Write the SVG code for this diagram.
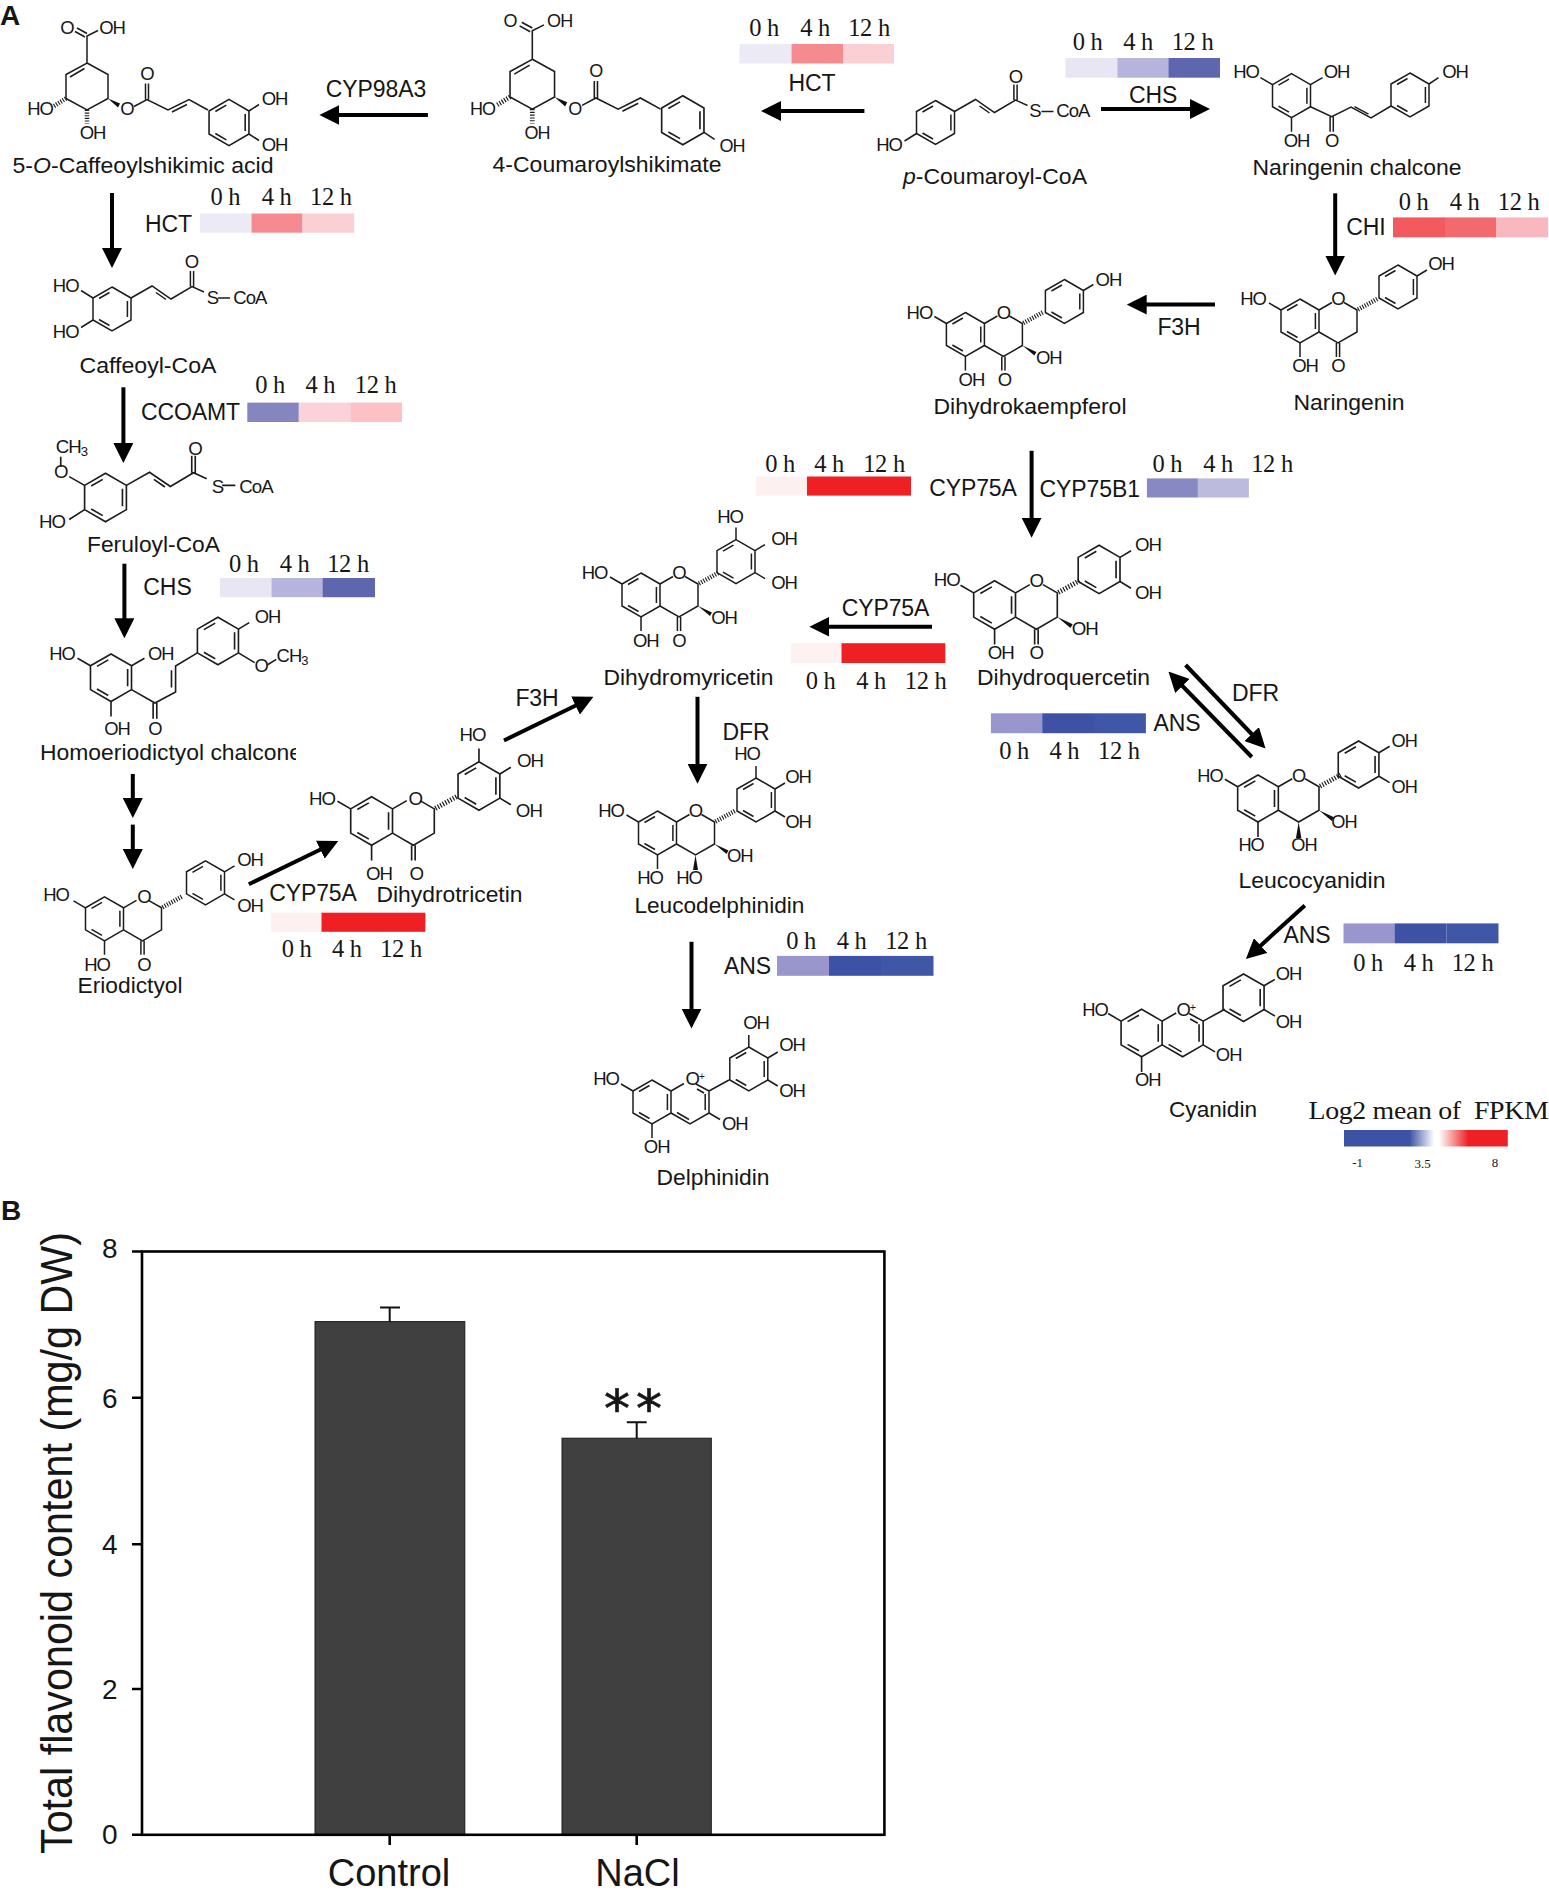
<svg xmlns="http://www.w3.org/2000/svg" width="1549" height="1894" viewBox="0 0 1549 1894">
<style>
text{font-family:"Liberation Sans",Arial,sans-serif;fill:#161616;text-anchor:middle}
.b{fill:none;stroke:#1c1c1c;stroke-width:1.5}
.h{fill:none;stroke:#1c1c1c;stroke-width:4.5;stroke-dasharray:1.1 1.5}
.w{fill:#111;stroke:none}
.a{font-size:18.5px;letter-spacing:-1px}
.s .a{font-size:17px;letter-spacing:-.9px}
.n{font-size:21.5px}
.e{font-size:23px;letter-spacing:-.1px}
.t{font-family:"Liberation Serif","Times New Roman",serif;font-size:24.5px;letter-spacing:-.3px}
.sm{font-family:"Liberation Serif","Times New Roman",serif;font-size:13px}
.arr{fill:none;stroke:#000;stroke-width:4;marker-end:url(#ah)}
.ax{fill:none;stroke:#000;stroke-width:2.6}
.tk{font-size:28px}
.bar{fill:#404040;stroke:#1a1a1a;stroke-width:1}
.er{fill:none;stroke:#111;stroke-width:2}
.pl{font-size:28px;font-weight:bold;text-anchor:start}
</style>
<defs>
<marker id="ah" markerUnits="userSpaceOnUse" markerWidth="20" markerHeight="20" viewBox="0 0 20 20" refX="2" refY="10" orient="auto"><path d="M0,0 L20,10 L0,20 Z" fill="#000"/></marker>
<path id="hex" class="b" d="M0,-22 L19,-11 V11 L0,22 L-19,11 V-11 Z M-13,-10.5 L-2.5,-16.5 M15.4,-8 V8 M-13,10.5 L-2.5,16.5"/>
<g id="cring"><path class="b" d="M19,-11 L32,-18.5 M44,-18.5 L57,-11 V11 L38,22 L19,11 M-19,-11 L-31,-18 M0,22 V36"/><path class="h" d="M58,-11.5 L78,-22.5"/></g>
<path id="co" class="b" d="M36.4,22 V36 M39.6,22 V36"/>
<path id="w3" class="w" d="M57,11 L71,17.5 L69,21 Z"/>
<g id="acring"><path class="b" d="M19,-11 L32,-18.5 M44,-18 L57,-11 V11 L38,22 L19,11 M45,-13 L52,-9 M53.2,-8 V8 M25,10.5 L37,17.5 M-19,-11 L-31,-18 M0,22 V36 M57,11 L68,17.5 M57,-11 L77,-22"/></g>
<g id="shik"><path class="b" d="M0,-23.5 L21,-12 V12 L0,23.5 L-21,12 V-12 Z M-17,-9.5 L-2.5,-18 M0,-23.5 V-50.5 L11,-56 M-2,-49.5 L-12,-55 M0,-53 L-10,-58.5 M47,20 L60,13 L81,23.5 L102,13 L121,23.5 M58.5,13 V-3 M61.5,13 V-3 M85,25.5 L100,18"/><path class="h" d="M-21,12 L-33,19.5 M0,23.5 V37"/><path class="w" d="M21,12 L33,17 L31,21 Z"/></g>
<path id="tail" class="b" d="M19,-11 L40,-23 L59,-10 L80,-22.5 L92,-17 M44,-16.5 L54,-9.5 M78.4,-22.5 V-38 M81.6,-22.5 V-38 M106,-11 H118"/>
<path id="cat" class="b" d="M19,-11 L29,-17 M19,11 L29,17"/>
<path id="tri" class="b" d="M0,-22 V-34 M19,-11 L29,-17 M19,11 L29,17"/>
<linearGradient id="lg"><stop offset="0" stop-color="#3D52A4"/><stop offset=".4" stop-color="#3D52A4"/><stop offset=".55" stop-color="#fff"/><stop offset=".58" stop-color="#fff"/><stop offset=".76" stop-color="#EE2024"/><stop offset="1" stop-color="#EE2024"/></linearGradient>
<clipPath id="cl"><rect x="30" y="735" width="266" height="40"/></clipPath>
</defs>
<rect width="1549" height="1894" fill="#fff"/>
<text class="pl" x="0" y="25">A</text>
<text class="pl" x="1" y="1220">B</text>

<g id="n-caffeoylshikimic" transform="translate(87,86.5)">
<use href="#shik"/><use href="#hex" transform="translate(142,36) scale(1.05)"/><path class="b" d="M162,24.5 L172,18 M162,47.5 L172,54"/>
<text class="a" x="-20" y="-53">O</text><text class="a" x="25" y="-53">OH</text><text class="a" x="-47" y="28.5">HO</text><text class="a" x="5.5" y="52.3">OH</text><text class="a" x="40" y="28.5">O</text><text class="a" x="60" y="-6.5">O</text><text class="a" x="187.6" y="18.2">OH</text><text class="a" x="187.6" y="64.9">OH</text>
</g>
<text id="l-caff" class="n" x="143" y="173" textLength="261" lengthAdjust="spacingAndGlyphs">5-<tspan font-style="italic">O</tspan>-Caffeoylshikimic acid</text>

<g id="n-coumaroylshikimate" class="s" transform="translate(532.3,84.2) scale(1.06)">
<use href="#shik"/><use href="#hex" transform="translate(142,34) scale(1.05)"/><path class="b" d="M162,45.5 L172,52"/>
<text class="a" x="-21" y="-53.6">O</text><text class="a" x="25.8" y="-53.6">OH</text><text class="a" x="-46.9" y="28.7">HO</text><text class="a" x="4.4" y="52">OH</text><text class="a" x="40" y="28.7">O</text><text class="a" x="60" y="-6.6">O</text><text class="a" x="188.4" y="63.7">OH</text>
</g>
<text id="l-cs" class="n" x="607" y="172" textLength="229" lengthAdjust="spacingAndGlyphs">4-Coumaroylshikimate</text>

<g id="n-pcoumaroyl" transform="translate(935.5,122.5)">
<use href="#hex"/><use href="#tail"/><path class="b" d="M-19,11 L-31,18.5"/>
<text class="a" x="-46.5" y="28.9">HO</text><text class="a" x="80" y="-40">O</text><text class="a" x="99.5" y="-5.5">S</text><text class="a" x="137.3" y="-5.5">CoA</text>
</g>
<text id="l-pc" class="n" x="995" y="183.7" textLength="184" lengthAdjust="spacingAndGlyphs"><tspan font-style="italic">p</tspan>-Coumaroyl-CoA</text>

<g id="n-chalcone" transform="translate(1291.5,95.7)">
<use href="#hex"/><use href="#hex" x="118.5" y="-0.7"/>
<path class="b" d="M-19,-11 L-31,-18 M19,-11 L31,-18 M0,22 V36 M19,11 L40.2,21 L59.5,11.3 L79.5,22.3 L99.5,10.3 M38.6,21 V36 M41.8,21 V36 M63,11 L77,18.5 M137.5,-11.7 L147,-18"/>
<text class="a" x="-45.5" y="-18">HO</text><text class="a" x="45" y="-18">OH</text><text class="a" x="5" y="51">OH</text><text class="a" x="40.2" y="51">O</text><text class="a" x="163.5" y="-18">OH</text>
</g>
<text id="l-nc" class="n" x="1357" y="175.3" textLength="209" lengthAdjust="spacingAndGlyphs">Naringenin chalcone</text>

<g id="n-caffeoylcoa" transform="translate(112,309)">
<use href="#hex"/><use href="#tail"/><path class="b" d="M-19,-11 L-31,-18.5 M-19,11 L-31,18.5"/>
<text class="a" x="-46.3" y="-17">HO</text><text class="a" x="-46.3" y="29">HO</text><text class="a" x="79.5" y="-41">O</text><text class="a" x="100.4" y="-5.3">S</text><text class="a" x="137.8" y="-5.3">CoA</text>
</g>
<text id="l-cc" class="n" x="148" y="373" textLength="137" lengthAdjust="spacingAndGlyphs">Caffeoyl-CoA</text>

<g id="n-feruloyl" class="s" transform="translate(105.5,497.5) scale(1.1)">
<use href="#hex"/><use href="#tail"/><path class="b" d="M-19,-11 L-33,-19 M-40.7,-28 V-37 M-19,11 L-33,20"/>
<text class="a" x="-31" y="-40.5">CH<tspan dy="3" font-size="12">3</tspan></text><text class="a" x="-40.7" y="-18">O</text><text class="a" x="-48.6" y="28">HO</text><text class="a" x="81.4" y="-39">O</text><text class="a" x="101.8" y="-4.3">S</text><text class="a" x="136.8" y="-4.3">CoA</text>
</g>
<text id="l-fc" class="n" x="153.5" y="552" textLength="133" lengthAdjust="spacingAndGlyphs">Feruloyl-CoA</text>

<g id="n-homoeriodictyol" class="s" transform="translate(111,677.7) scale(1.08)">
<use href="#hex"/><use href="#hex" x="99" y="-34"/>
<path class="b" d="M-19,-11 L-31,-18 M19,-11 L31,-18 M0,22 V36 M19,11 L40.7,23.4 L59.8,13.2 V-10.8 L80,-23 M39,23.4 V38 M42.4,23.4 V38 M56,9 V-7 M118,-45 L128,-51 M118,-23 L133,-14 M145,-12 L153,-17"/>
<text class="a" x="-45.4" y="-16">HO</text><text class="a" x="46" y="-16">OH</text><text class="a" x="5.6" y="53">OH</text><text class="a" x="40.7" y="53">O</text><text class="a" x="145" y="-51">OH</text><text class="a" x="139" y="-5">O</text><text class="a" x="167.6" y="-15">CH<tspan dy="3" font-size="12">3</tspan></text>
</g>
<g clip-path="url(#cl)"><text id="l-he" class="n" x="40" y="759.6" style="text-anchor:start" textLength="262" lengthAdjust="spacingAndGlyphs">Homoeriodictyol chalcone</text></g>

<g id="n-eriodictyol" transform="translate(104.5,918.8)">
<use href="#hex"/><use href="#cring"/><use href="#co"/><use href="#hex" x="101" y="-36"/><use href="#cat" x="101" y="-36"/>
<text class="a" x="-48.5" y="-18">HO</text><text class="a" x="39.5" y="-16">O</text><text class="a" x="-7.5" y="52">HO</text><text class="a" x="39.5" y="52">O</text><text class="a" x="145.5" y="-52.8">OH</text><text class="a" x="145.5" y="-6.8">OH</text>
</g>
<text id="l-er" class="n" x="130" y="993.4" textLength="105" lengthAdjust="spacingAndGlyphs">Eriodictyol</text>

<g id="n-dihydrotricetin" class="s" transform="translate(371.6,821) scale(1.1)">
<use href="#hex"/><use href="#cring"/><use href="#co"/><use href="#hex" x="97.6" y="-31.8"/><use href="#tri" x="97.6" y="-31.8"/>
<text class="a" x="-45" y="-14.5">HO</text><text class="a" x="39.8" y="-15">O</text><text class="a" x="6.7" y="54">OH</text><text class="a" x="40.7" y="54">O</text><text class="a" x="91.8" y="-72.5">HO</text><text class="a" x="144" y="-49">OH</text><text class="a" x="143" y="-4">OH</text>
</g>
<text id="l-dt" class="n" x="449.5" y="902" textLength="146" lengthAdjust="spacingAndGlyphs">Dihydrotricetin</text>

<g id="n-dihydromyricetin" transform="translate(641,595)">
<use href="#hex"/><use href="#cring"/><use href="#co"/><use href="#w3"/><use href="#hex" x="95" y="-33.4"/><use href="#tri" x="95" y="-33.4"/>
<text class="a" x="-46.5" y="-16">HO</text><text class="a" x="38" y="-16">O</text><text class="a" x="4.8" y="52">OH</text><text class="a" x="38" y="52">O</text><text class="a" x="83" y="29">OH</text><text class="a" x="89" y="-72.4">HO</text><text class="a" x="143" y="-50">OH</text><text class="a" x="143" y="-6">OH</text>
</g>
<text id="l-dm" class="n" x="688.5" y="685" textLength="170" lengthAdjust="spacingAndGlyphs">Dihydromyricetin</text>

<g id="n-leucodelphinidin" transform="translate(657.5,833)">
<use href="#hex"/><use href="#cring"/><use href="#w3"/><path class="w" d="M38,22 L35.5,37 L40.5,37 Z"/><use href="#hex" x="98.5" y="-33"/><use href="#tri" x="98.5" y="-33"/>
<text class="a" x="-46.5" y="-16.5">HO</text><text class="a" x="38" y="-16.5">O</text><text class="a" x="-7.5" y="51">HO</text><text class="a" x="31.5" y="51">HO</text><text class="a" x="82.3" y="28.6">OH</text><text class="a" x="89.5" y="-73">HO</text><text class="a" x="140.5" y="-50">OH</text><text class="a" x="140.5" y="-5">OH</text>
</g>
<text id="l-ld" class="n" x="719.4" y="912.5" textLength="170" lengthAdjust="spacingAndGlyphs">Leucodelphinidin</text>

<g id="n-delphinidin" transform="translate(652,1102)">
<use href="#hex"/><use href="#acring"/><use href="#hex" x="96.8" y="-33"/><use href="#tri" x="96.8" y="-33"/>
<text class="a" x="-46" y="-17">HO</text><text class="a" x="39.5" y="-17" style="text-anchor:start" dx="-6">O<tspan dy="-5" font-size="10">+</tspan></text><text class="a" x="82.8" y="28.3">OH</text><text class="a" x="4.7" y="50.5">OH</text><text class="a" x="104" y="-73">OH</text><text class="a" x="140" y="-51">OH</text><text class="a" x="140" y="-5.4">OH</text>
</g>
<text id="l-de" class="n" x="713" y="1185" textLength="113" lengthAdjust="spacingAndGlyphs">Delphinidin</text>

<g id="n-naringenin" transform="translate(1300,321)">
<use href="#hex"/><use href="#cring"/><use href="#co"/><use href="#hex" x="98" y="-34"/><path class="b" d="M117,-45 L127,-51"/>
<text class="a" x="-47" y="-16.5">HO</text><text class="a" x="38" y="-16">O</text><text class="a" x="5" y="50.5">OH</text><text class="a" x="38" y="50.5">O</text><text class="a" x="141" y="-51">OH</text>
</g>
<text id="l-na" class="n" x="1349" y="410" textLength="111" lengthAdjust="spacingAndGlyphs">Naringenin</text>

<g id="n-dihydrokaempferol" transform="translate(965.4,334.5)">
<use href="#hex"/><use href="#cring"/><use href="#co"/><use href="#w3"/><use href="#hex" x="99" y="-33"/><path class="b" d="M118,-44 L128,-50"/>
<text class="a" x="-46" y="-16">HO</text><text class="a" x="38" y="-16">O</text><text class="a" x="6" y="51.5">OH</text><text class="a" x="39" y="51.5">O</text><text class="a" x="83.4" y="29.3">OH</text><text class="a" x="143" y="-48.5">OH</text>
</g>
<text id="l-dk" class="n" x="1030" y="414" textLength="193" lengthAdjust="spacingAndGlyphs">Dihydrokaempferol</text>

<g id="n-dihydroquercetin" class="s" transform="translate(994.6,605) scale(1.1)">
<use href="#hex"/><use href="#cring"/><use href="#co"/><use href="#w3"/><use href="#hex" x="95" y="-32.3"/><use href="#cat" x="95" y="-32.3"/>
<text class="a" x="-43.5" y="-17">HO</text><text class="a" x="38" y="-16">O</text><text class="a" x="5.5" y="49">OH</text><text class="a" x="38" y="49">O</text><text class="a" x="82" y="27">OH</text><text class="a" x="139.5" y="-49">OH</text><text class="a" x="139.5" y="-5.5">OH</text>
</g>
<text id="l-dq" class="n" x="1063.6" y="685" textLength="173" lengthAdjust="spacingAndGlyphs">Dihydroquercetin</text>

<g id="n-leucocyanidin" class="s" transform="translate(1258,798.5) scale(1.07)">
<use href="#hex"/><use href="#cring"/><use href="#w3"/><path class="w" d="M38,22 L35.5,37 L40.5,37 Z"/><use href="#hex" x="94" y="-31.8"/><use href="#cat" x="94" y="-31.8"/>
<text class="a" x="-44.9" y="-15.4">HO</text><text class="a" x="38" y="-15.4">O</text><text class="a" x="80.4" y="28">OH</text><text class="a" x="-6.5" y="49.5">HO</text><text class="a" x="43" y="49.5">OH</text><text class="a" x="136.7" y="-48.3">OH</text><text class="a" x="136.7" y="-4.7">OH</text>
</g>
<text id="l-lc" class="n" x="1312" y="887.8" textLength="147" lengthAdjust="spacingAndGlyphs">Leucocyanidin</text>

<g id="n-cyanidin" class="s" transform="translate(1141.6,1033) scale(1.08)">
<use href="#hex"/><use href="#acring"/><use href="#hex" x="94.4" y="-32.7"/><use href="#cat" x="94.4" y="-32.7"/>
<text class="a" x="-43.2" y="-15.7">HO</text><text class="a" x="38.3" y="-15.7" style="text-anchor:start" dx="-6">O<tspan dy="-5" font-size="10">+</tspan></text><text class="a" x="80.6" y="26.3">OH</text><text class="a" x="5.7" y="49">OH</text><text class="a" x="136" y="-49">OH</text><text class="a" x="136" y="-4.9">OH</text>
</g>
<text id="l-cy" class="n" x="1213" y="1117.4" textLength="88" lengthAdjust="spacingAndGlyphs">Cyanidin</text>

<g id="connectors">
<path class="arr" d="M427.9,115 H337.4"/>
<path class="arr" d="M864.4,111 H779"/>
<path class="arr" d="M1101,109 H1192"/>
<path class="arr" d="M112,193 V250"/>
<path class="arr" d="M123.4,387.3 V445"/>
<path class="arr" d="M124.4,563.7 V620.3"/>
<path class="arr" d="M132.8,774 V800"/>
<path class="arr" d="M132.8,824.6 V851"/>
<path class="arr" d="M248.8,884.3 L322.1,848.8"/>
<path class="arr" d="M504,740.5 L577.3,704.7"/>
<path class="arr" d="M697.5,696.8 V765.7"/>
<path class="arr" d="M691.5,941.8 V1010.6"/>
<path class="arr" d="M1335.2,193.3 V257.5"/>
<path class="arr" d="M1215,304.6 H1144.7"/>
<path class="arr" d="M1031.6,450.8 V519.7"/>
<path class="arr" d="M932,626.8 H827.4"/>
<path class="arr" d="M1185.6,665 L1253.1,735.5"/>
<path class="arr" d="M1251.8,757 L1181,684.5"/>
<path class="arr" d="M1304.8,905.4 L1259.2,946.9"/>
</g>

<g id="enzymes">
<text class="e" x="376" y="96.8">CYP98A3</text>
<text class="e" x="812" y="90.7">HCT</text>
<text class="e" x="1153.2" y="102.6">CHS</text>
<text class="e" x="168.4" y="232">HCT</text>
<text class="e" x="190.5" y="420">CCOAMT</text>
<text class="e" x="167.5" y="595">CHS</text>
<text class="e" x="1366" y="235.4">CHI</text>
<text class="e" x="1179" y="334.9">F3H</text>
<text class="e" x="973" y="495.6">CYP75A</text>
<text class="e" x="1089.7" y="496.7">CYP75B1</text>
<text class="e" x="885.5" y="616">CYP75A</text>
<text class="e" x="1255.5" y="701.4">DFR</text>
<text class="e" x="1177" y="731.3">ANS</text>
<text class="e" x="537" y="706.4">F3H</text>
<text class="e" x="746" y="739.7">DFR</text>
<text class="e" x="313" y="901">CYP75A</text>
<text class="e" x="747.5" y="974.3">ANS</text>
<text class="e" x="1307" y="943.3">ANS</text>
</g>

<g id="heat-hct-1"><rect x="739.5" y="44" width="52" height="19.5" fill="#ECEAF5"/><rect x="791.5" y="44" width="51.5" height="19.5" fill="#F58B90"/><rect x="843" y="44" width="51" height="19.5" fill="#FBD0D5"/><text class="t" x="764" y="36">0 h</text><text class="t" x="815" y="36">4 h</text><text class="t" x="869" y="36">12 h</text></g>
<g id="heat-chs-1"><rect x="1065.4" y="58" width="52" height="19.7" fill="#E8E6F3"/><rect x="1117.4" y="58" width="51" height="19.7" fill="#B6B3DC"/><rect x="1168.4" y="58" width="51.6" height="19.7" fill="#5F66B0"/><text class="t" x="1087.5" y="49.7">0 h</text><text class="t" x="1138" y="49.7">4 h</text><text class="t" x="1192.5" y="49.7">12 h</text></g>
<g id="heat-hct-2"><rect x="200" y="213.5" width="51.5" height="19.2" fill="#ECEAF5"/><rect x="251.5" y="213.5" width="51" height="19.2" fill="#F58B90"/><rect x="302.5" y="213.5" width="51.7" height="19.2" fill="#FBD0D5"/><text class="t" x="225.4" y="204.7">0 h</text><text class="t" x="276.6" y="204.7">4 h</text><text class="t" x="330.8" y="204.7">12 h</text></g>
<g id="heat-ccoamt"><rect x="247.3" y="402.6" width="51.5" height="19.4" fill="#8585C0"/><rect x="298.8" y="402.6" width="51.5" height="19.4" fill="#FBD2D8"/><rect x="350.3" y="402.6" width="51.7" height="19.4" fill="#FCC0C6"/><text class="t" x="270" y="393.4">0 h</text><text class="t" x="320.4" y="393.4">4 h</text><text class="t" x="375.6" y="393.4">12 h</text></g>
<g id="heat-chs-2"><rect x="220" y="578" width="51.5" height="19.2" fill="#E8E6F3"/><rect x="271.5" y="578" width="51" height="19.2" fill="#B6B3DC"/><rect x="322.5" y="578" width="52.5" height="19.2" fill="#5F66B0"/><text class="t" x="243.8" y="572">0 h</text><text class="t" x="294.5" y="572">4 h</text><text class="t" x="348" y="572">12 h</text></g>
<g id="heat-chi"><rect x="1393" y="217.4" width="52" height="19.9" fill="#F25A5E"/><rect x="1445" y="217.4" width="51" height="19.9" fill="#F36A6E"/><rect x="1496" y="217.4" width="52" height="19.9" fill="#F9B8BE"/><text class="t" x="1413.6" y="209.7">0 h</text><text class="t" x="1464.6" y="209.7">4 h</text><text class="t" x="1518.6" y="209.7">12 h</text></g>
<g id="heat-cyp75a-1"><rect x="756" y="476.5" width="51" height="19.1" fill="#FCF0F0"/><rect x="807" y="476.5" width="104" height="19.1" fill="#EE2024"/><text class="t" x="780" y="471.5">0 h</text><text class="t" x="829" y="471.5">4 h</text><text class="t" x="884" y="471.5">12 h</text></g>
<g id="heat-cyp75b1"><rect x="1146.9" y="478.4" width="51" height="19.1" fill="#8888C2"/><rect x="1197.9" y="478.4" width="51" height="19.1" fill="#BCBADD"/><text class="t" x="1167.4" y="471.5">0 h</text><text class="t" x="1218" y="471.5">4 h</text><text class="t" x="1272" y="471.5">12 h</text></g>
<g id="heat-cyp75a-2"><rect x="790.8" y="643.2" width="50.7" height="19.8" fill="#FDF1F1"/><rect x="841.5" y="643.2" width="103.8" height="19.8" fill="#EE2024"/><text class="t" x="820.7" y="688.8">0 h</text><text class="t" x="871" y="688.8">4 h</text><text class="t" x="925.7" y="688.8">12 h</text></g>
<g id="heat-ans-1"><rect x="990.9" y="713.3" width="51.3" height="19.9" fill="#9896CC"/><rect x="1042.2" y="713.3" width="51.8" height="19.9" fill="#3D52A4"/><rect x="1094" y="713.3" width="51.9" height="19.9" fill="#4057A8"/><text class="t" x="1014" y="759.2">0 h</text><text class="t" x="1064.4" y="759.2">4 h</text><text class="t" x="1118.9" y="759.2">12 h</text></g>
<g id="heat-cyp75a-3"><rect x="271" y="912.7" width="50.5" height="19.1" fill="#FCF0F0"/><rect x="321.5" y="912.7" width="103.9" height="19.1" fill="#EE2024"/><text class="t" x="296.5" y="957">0 h</text><text class="t" x="346.8" y="957">4 h</text><text class="t" x="401" y="957">12 h</text></g>
<g id="heat-ans-2"><rect x="777" y="955.9" width="52" height="19.9" fill="#9896CC"/><rect x="829" y="955.9" width="52" height="19.9" fill="#3D52A4"/><rect x="881" y="955.9" width="52.5" height="19.9" fill="#4057A8"/><text class="t" x="801" y="949.4">0 h</text><text class="t" x="851.6" y="949.4">4 h</text><text class="t" x="906" y="949.4">12 h</text></g>
<g id="heat-ans-3"><rect x="1343.5" y="923.4" width="51" height="19.9" fill="#9896CC"/><rect x="1394.5" y="923.4" width="52" height="19.9" fill="#3D52A4"/><rect x="1446.5" y="923.4" width="52" height="19.9" fill="#4057A8"/><text class="t" x="1368" y="971.2">0 h</text><text class="t" x="1418.6" y="971.2">4 h</text><text class="t" x="1472.5" y="971.2">12 h</text></g>

<g id="legend">
<text class="t" x="1428.5" y="1118.5" style="font-size:25px" textLength="240" lengthAdjust="spacingAndGlyphs" xml:space="preserve">Log2 mean of  FPKM</text>
<rect x="1344" y="1130" width="163.8" height="16.5" fill="url(#lg)"/>
<text class="sm" x="1357.7" y="1167">-1</text><text class="sm" x="1422.5" y="1168">3.5</text><text class="sm" x="1495" y="1167">8</text>
</g>

<g id="chart">
<rect class="bar" x="315" y="1321.6" width="149.8" height="513.2"/>
<rect class="bar" x="562" y="1438.2" width="149.3" height="396.6"/>
<path class="er" d="M389.7,1321.6 V1307.5 M380,1307.5 H400 M636.7,1438.2 V1422.3 M626.8,1422.3 H646.7"/>
<rect class="ax" x="142" y="1251.5" width="742.4" height="583.3"/>
<path class="ax" d="M132,1251.5 H142 M132,1397.7 H142 M132,1544.3 H142 M132,1689 H142 M132,1834.8 H142 M389.7,1835 V1845 M636.7,1835 V1845"/>
<text class="tk" x="109.7" y="1258">8</text><text class="tk" x="109.7" y="1407.7">6</text><text class="tk" x="109.7" y="1554.3">4</text><text class="tk" x="109.7" y="1699">2</text><text class="tk" x="109.7" y="1844">0</text>
<text transform="translate(72,1543) rotate(-90)" style="font-size:45px" textLength="622" lengthAdjust="spacingAndGlyphs">Total flavonoid content (mg/g DW)</text>
<text x="389" y="1886" style="font-size:38px">Control</text><text x="637.5" y="1886" style="font-size:38px">NaCl</text>
<text x="636" y="1427" style="font-family:'DejaVu Sans',sans-serif;font-size:52px;letter-spacing:6px;stroke:#161616;stroke-width:.7">**</text>
</g>
</svg>
